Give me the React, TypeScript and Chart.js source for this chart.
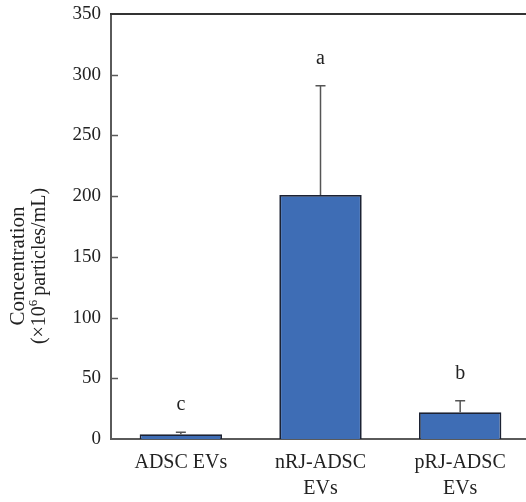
import React, { useEffect, useRef } from "react";
import { Chart, registerables } from "chart.js";

Chart.register(...registerables);

// Group labels (multi-line where the name wraps)
const categories: string[][] = [["ADSC EVs"], ["nRJ-ADSC", "EVs"], ["pRJ-ADSC", "EVs"]];
// Mean concentration (×10^6 particles/mL)
const means: number[] = [4, 201, 22];
// Standard deviation (upper error bar)
const errors: number[] = [1.5, 90, 9.5];
// Significance letters above each bar
const letters: string[] = ["c", "a", "b"];
// Y-axis range and tick spacing
const yMin = 0;
const yMax = 350;
const yStep = 50;

const SERIF = "'Liberation Serif', 'Times New Roman', serif";
const AXIS_GRAY = "#5a5a5a";
const TEXT = "#222";

const decorations = {
  id: "decorations",
  afterDatasetsDraw(chart: any) {
    const { ctx, chartArea, scales } = chart;
    const y = scales.y;
    const meta = chart.getDatasetMeta(0);
    ctx.save();

    // inward tick marks on the y axis
    ctx.strokeStyle = AXIS_GRAY;
    ctx.lineWidth = 1.5;
    for (let v = yMin + yStep; v < yMax; v += yStep) {
      const py = Math.round(y.getPixelForValue(v)) + 0.5;
      ctx.beginPath();
      ctx.moveTo(chartArea.left, py);
      ctx.lineTo(chartArea.left + 7, py);
      ctx.stroke();
    }

    // top frame line at the axis maximum
    ctx.strokeStyle = "#333";
    ctx.lineWidth = 2;
    const topY = y.getPixelForValue(yMax);
    ctx.beginPath();
    ctx.moveTo(chartArea.left - 1, topY);
    ctx.lineTo(chart.width, topY);
    ctx.stroke();

    // error bars and letters
    meta.data.forEach((bar: any, i: number) => {
      const x = bar.x;
      const top = y.getPixelForValue(means[i] + errors[i]);
      ctx.strokeStyle = "#555";
      ctx.lineWidth = 1.5;
      ctx.beginPath();
      ctx.moveTo(x, bar.y);
      ctx.lineTo(x, top);
      ctx.moveTo(x - 5, top);
      ctx.lineTo(x + 5, top);
      ctx.stroke();

      ctx.fillStyle = TEXT;
      ctx.font = `20px ${SERIF}`;
      ctx.textAlign = "center";
      ctx.textBaseline = "alphabetic";
      ctx.fillText(letters[i], x, top - 22);
    });

    // rotated y-axis title with superscript exponent
    const cy = 266;
    ctx.fillStyle = TEXT;
    ctx.textBaseline = "middle";
    ctx.save();
    ctx.translate(18, cy);
    ctx.rotate(-Math.PI / 2);
    ctx.font = `21px ${SERIF}`;
    ctx.textAlign = "center";
    ctx.fillText("Concentration", 0, 0);
    ctx.restore();

    ctx.save();
    ctx.translate(40, cy);
    ctx.rotate(-Math.PI / 2);
    ctx.textAlign = "left";
    const big = `20px ${SERIF}`;
    const small = `13px ${SERIF}`;
    const a = "(×10";
    const b = "6";
    const c = "\u2009particles/mL)";
    ctx.font = big;
    const wa = ctx.measureText(a).width;
    const wc = ctx.measureText(c).width;
    ctx.font = small;
    const wb = ctx.measureText(b).width;
    let x0 = -(wa + wb + wc) / 2;
    ctx.font = big;
    ctx.fillText(a, x0, 0);
    x0 += wa;
    ctx.font = small;
    ctx.fillText(b, x0, -6);
    x0 += wb;
    ctx.font = big;
    ctx.fillText(c, x0, 0);
    ctx.restore();

    ctx.restore();
  },
};

export default function App() {
  const ref = useRef<HTMLCanvasElement | null>(null);

  useEffect(() => {
    if (!ref.current) return;
    const chart = new Chart(ref.current, {
      type: "bar",
      data: {
        labels: categories,
        datasets: [
          {
            data: means,
            backgroundColor: "#3e6db5",
            borderColor: "#1c2233",
            borderWidth: 1.8,
            borderSkipped: "bottom",
            barPercentage: 0.59,
            categoryPercentage: 1,
          },
        ],
      },
      options: {
        responsive: false,
        animation: false,
        layout: { padding: { left: 0, top: 14, right: 0, bottom: 0 } },
        plugins: { legend: { display: false }, tooltip: { enabled: false } },
        scales: {
          x: {
            grid: { display: false, drawTicks: false },
            border: { display: true, color: AXIS_GRAY, width: 2 },
            ticks: {
              color: TEXT,
              font: { family: SERIF, size: 20, lineHeight: 1.3 },
              padding: 11,
              maxRotation: 0,
              autoSkip: false,
            },
            afterFit(scale: any) {
              scale.height = 63;
              scale.paddingLeft = 0;
              scale.paddingRight = 0;
            },
          },
          y: {
            min: yMin,
            max: yMax,
            grid: { display: false, drawTicks: false },
            border: { display: true, color: AXIS_GRAY, width: 2 },
            ticks: {
              stepSize: yStep,
              color: TEXT,
              font: { family: SERIF, size: 19 },
              padding: 10,
            },
            afterFit(scale: any) {
              scale.width = 111;
              scale.paddingTop = 0;
              scale.paddingBottom = 0;
            },
          },
        },
      },
      plugins: [decorations],
    });
    return () => chart.destroy();
  }, []);

  return (
    <div style={{ position: "absolute", left: 0, top: 0, width: 526, height: 502, overflow: "hidden", background: "#fff" }}>
      <canvas ref={ref} width={530} height={502} style={{ display: "block" }} />
    </div>
  );
}
